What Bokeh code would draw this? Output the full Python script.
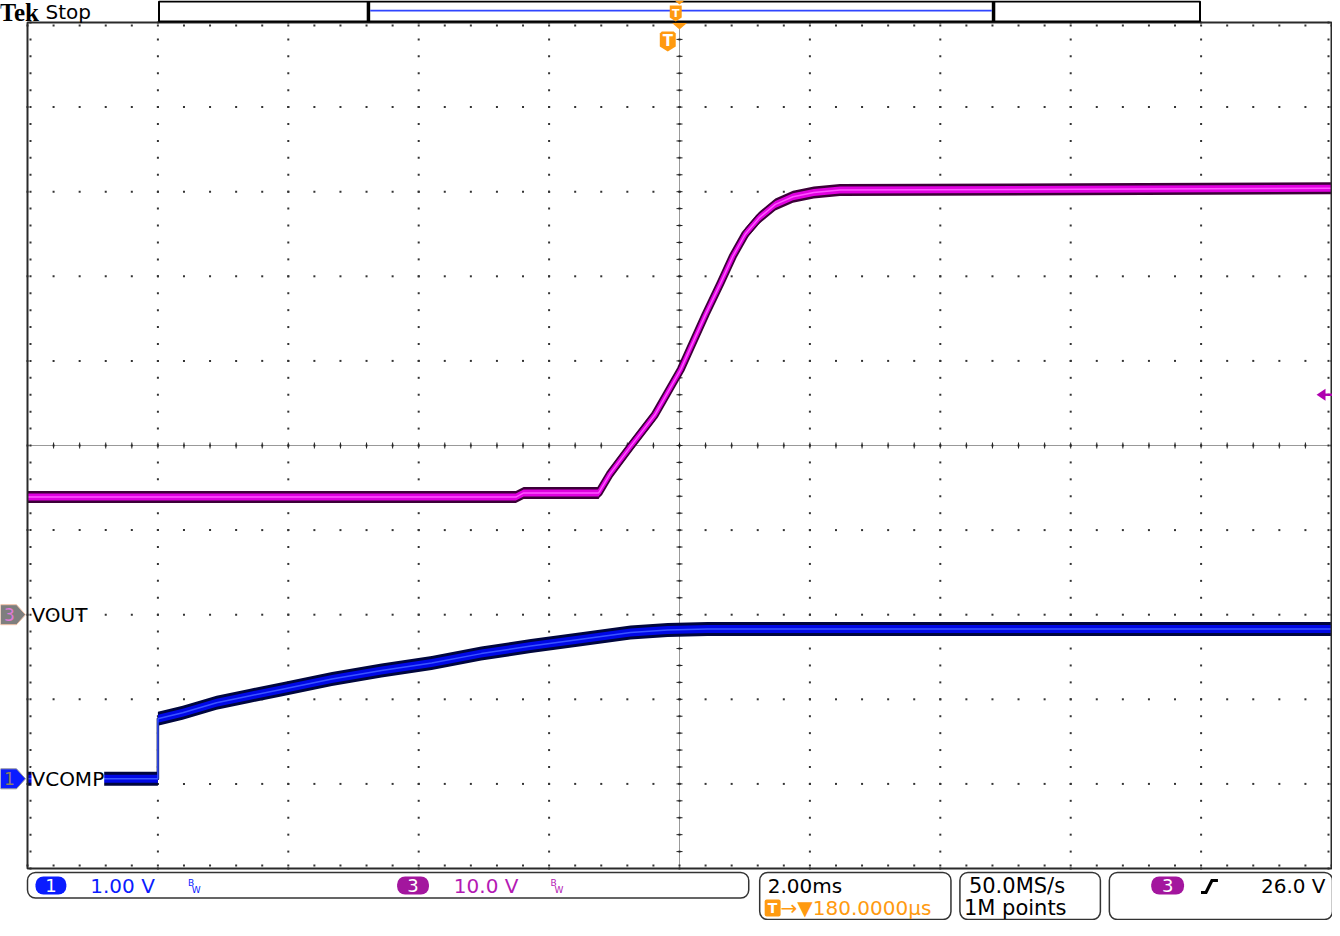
import numpy as np
from bokeh.plotting import figure
from bokeh.models import Range1d, Label, BoxAnnotation, PolyAnnotation
from bokeh.embed import file_html
from bokeh.resources import INLINE

# ---------------- data (time in ms relative to trigger, volts) ----------------
vout_t = [-9.82, -2.33, -2.21, -1.06, -0.89, -0.57, -0.20, 0.20, 0.58, 0.81,
          1.00, 1.19, 1.40, 1.65, 1.92, 2.24, 2.64, 10.18]
vout_v = [13.9, 13.9, 14.4, 14.4, 16.6, 19.9, 23.6, 29.0, 35.5, 39.2,
          42.4, 45.0, 46.9, 48.5, 49.4, 49.9, 50.2, 50.4]

vcomp_t = [-9.82, -7.82, -7.82, -7.44, -6.92, -6.42, -5.91, -5.15, -4.39,
           -3.62, -2.86, -2.10, -1.33, -0.57, 0.00, 0.61, 10.18]
vcomp_v = [0.0, 0.0, 0.71, 0.78, 0.90, 0.98, 1.06, 1.18, 1.28,
           1.37, 1.48, 1.57, 1.65, 1.73, 1.76, 1.77, 1.77]

# scope settings
time_per_div = 2.0          # ms/div
trigger_delay = 0.18        # ms, screen centre after trigger
ch3_scale, ch3_pos = 10.0, -2.0   # V/div, div
ch1_scale, ch1_pos = 1.0, -3.94
trigger_level = 26.0        # V on ch3

ch1_name, ch3_name = "VCOMP", "VOUT"
ch1_text, ch3_text = "1.00 V", "10.0 V"
tb_text, delay_text = "2.00ms", "\u2192\u25BC180.0000\u00b5s"
rate_text, points_text = "50.0MS/s", "1M points"
trig_text = "26.0 V"

# ---------------- geometry (canvas pixels) ----------------
W, H = 1332, 920
GL, GR, GT, GB = 27, 1331, 22, 868       # graticule box
DIVX = (GR - GL) / 10.0
DIVY = (GB - GT) / 10.0
SX = (GR - GL) / 1309.0                  # reference -> canvas x scale in graticule
T0 = -5 * time_per_div + trigger_delay

def px_to_t(px):
    return T0 + (px - GL) / DIVX * time_per_div

def py_to_d(py):
    return 5 - (py - GT) / DIVY

def PX(X):
    return GL + (X - 27) * SX if X > 27 else X

def DX(X):
    return px_to_t(PX(X))

def DY(Y):
    return py_to_d(Y)

d_lo, d_hi = py_to_d(H), py_to_d(0)
p = figure(width=W, height=H, title=None,
           x_range=Range1d(px_to_t(0), px_to_t(W)), y_range=Range1d(d_lo, d_hi),
           x_axis_type=None, y_axis_type=None, toolbar_location=None,
           output_backend="svg", min_border=0, min_border_left=0, min_border_right=0,
           min_border_top=0, min_border_bottom=0)
p.background_fill_color = "white"
p.border_fill_color = "white"
p.outline_line_color = None

p.extra_y_ranges = {
    "ch3": Range1d((d_lo - ch3_pos) * ch3_scale, (d_hi - ch3_pos) * ch3_scale),
    "ch1": Range1d((d_lo - ch1_pos) * ch1_scale, (d_hi - ch1_pos) * ch1_scale),
}

# ---------------- graticule ----------------
xt = np.array([T0 + time_per_div * i for i in range(11)])
yt = np.arange(-5, 5.001, 1.0)
sub_y = np.arange(-5, 5.001, 0.2)
sub_x = np.arange(T0, T0 + 10 * time_per_div + 0.001, time_per_div / 5)
gx1, gy1 = np.meshgrid(xt[1:-1], sub_y)
gx2, gy2 = np.meshgrid(sub_x, yt[1:-1])
p.scatter(np.concatenate([gx1.ravel(), gx2.ravel()]),
          np.concatenate([gy1.ravel(), gy2.ravel()]),
          marker="square", size=2, fill_color="#333333", line_color=None)
xc = T0 + 5 * time_per_div
p.segment(x0=[xc, T0], y0=[-5, 0], x1=[xc, T0 + 10 * time_per_div], y1=[5, 0],
          line_color="#333333", line_width=1, line_dash="1 1")
p.scatter(np.full(len(sub_y), xc), sub_y, marker="dash", size=6, line_color="#222222", line_width=1)
p.scatter(sub_x, np.zeros(len(sub_x)), marker="dash", angle=np.pi / 2, size=6,
          line_color="#222222", line_width=1)
kx = time_per_div / DIVX
ky = 1.0 / DIVY
for xe, s in ((T0, 1), (T0 + 10 * time_per_div, -1)):
    p.scatter(np.full(len(sub_y), xe + s * 3 * kx), sub_y, marker="square", size=2,
              fill_color="#333333", line_color=None)
for ye, s in ((-5, 1), (5, -1)):
    p.scatter(sub_x, np.full(len(sub_x), ye + s * 3 * ky), marker="square", size=2,
              fill_color="#333333", line_color=None)

# ---------------- traces (band = persistence of the noisy trace) ----------------
def trace(t, v, rng, scale, outer_px, inner_px, c_outer, c_inner, c_core, min_w=2.5):
    v = np.asarray(v, dtype=float)
    vpp = scale / DIVY                    # volts per pixel
    p.varea(x=t, y1=v - outer_px * vpp, y2=v + outer_px * vpp, y_range_name=rng,
            fill_color=c_outer)
    p.line(t, v, y_range_name=rng, line_width=min_w, line_color=c_outer, line_join="round")
    p.varea(x=t, y1=v - inner_px * vpp, y2=v + inner_px * vpp, y_range_name=rng,
            fill_color=c_inner)
    if min_w > 3:
        p.line(t, v, y_range_name=rng, line_width=min_w - 3.5, line_color=c_inner,
               line_join="round")
    p.line(t, v, y_range_name=rng, line_width=1.5, line_color=c_core)

trace(vout_t, vout_v, "ch3", ch3_scale, 6.0, 3.5, "#3c0038", "#e000e0", "#ff55ff", min_w=8)
trace(vcomp_t, vcomp_v, "ch1", ch1_scale, 7.0, 4.0, "#00063e", "#0008e6", "#3a55ff")

# graticule border
p.add_layout(BoxAnnotation(left=T0, right=T0 + 10 * time_per_div, bottom=-5, top=5,
                           fill_alpha=0, line_color="#2a2a2a", line_alpha=1, line_width=2))

# ---------------- helpers for decorations ----------------
def box(X0, X1, Y0, Y1, fill=None, line=None, lw=1.0, radius=0):
    p.add_layout(BoxAnnotation(left=DX(X0), right=DX(X1), top=DY(Y0), bottom=DY(Y1),
                               fill_color=fill or "white", fill_alpha=1 if fill else 0,
                               line_color=line or "black", line_alpha=1 if line else 0,
                               line_width=lw, border_radius=radius))

def poly(pts, fill, line=None, lw=1.0):
    p.add_layout(PolyAnnotation(xs=[DX(x) for x, y in pts], ys=[DY(y) for x, y in pts],
                                fill_color=fill, fill_alpha=1,
                                line_color=line or fill, line_alpha=1 if line else 0,
                                line_width=lw))

def label(X, Y, text, size, color, align="left", baseline="middle",
          font="DejaVu Sans", style="normal", bg=None):
    kw = dict(x=DX(X), y=DY(Y), text=text, text_font_size=f"{size}px",
              text_color=color, text_align=align, text_baseline=baseline,
              text_font=font, text_font_style=style)
    if bg:
        kw["background_fill_color"] = bg
    p.add_layout(Label(**kw))

def x_ref(t):
    return 27 + (t - T0) / time_per_div * 130.9

def y_ref(div):
    return GT + (5 - div) * DIVY

ORANGE = "#ff9a10"
BLUE = "#0a1cff"
MAG_BADGE = "#a3169e"
MAG_TEXT = "#b41ab4"

# ---------------- top bar ----------------
label(-1, 11.5, "Tek", 25, "black", font="Liberation Serif", style="bold")
label(45, 11.5, "Stop", 20, "black")
box(159, 1204, 1, 21, fill="white", line="black", lw=2)
box(367.5, 371, 1, 21, fill="black")
box(995, 998.5, 1, 21, fill="black")
box(371, 995, 9.2, 11, fill="#2f45ff")
xtrig = x_ref(0.0)
xcen = x_ref(xc)
poly([(xcen - 5, 0), (xcen + 5, 0), (xcen, 4)], ORANGE)
poly([(xtrig + 2, 5), (xtrig + 14, 5), (xtrig + 14, 17), (xtrig + 8, 21), (xtrig + 2, 17)], ORANGE)
label(xtrig + 8, 12.5, "T", 11, "white", align="center", style="bold")
poly([(xcen - 7.5, 22.5), (xcen + 7.5, 22.5), (xcen, 29)], ORANGE)
poly([(xtrig - 8, 33), (xtrig - 6, 31), (xtrig + 6, 31), (xtrig + 8, 33), (xtrig + 8, 46),
      (xtrig, 51), (xtrig - 8, 46)], ORANGE)
label(xtrig, 40.5, "T", 15, "white", align="center", style="bold")

# trigger level arrow (right edge)
ytl = y_ref(trigger_level / ch3_scale + ch3_pos)
poly([(1321, ytl), (1330, ytl - 6), (1330, ytl + 6)], "#b000b0")
box(1329, 1338, ytl - 1.2, ytl + 1.2, fill="#b000b0")

# channel ground markers + names
y3 = y_ref(ch3_pos)
y1 = y_ref(ch1_pos)
poly([(0, y3 - 10), (16, y3 - 10), (25, y3), (16, y3 + 10), (0, y3 + 10)], "#7e7e7e", line="#f2c2a8")
label(9, y3, "3", 17, "#e07ad8", align="center")
label(31, y3, ch3_name, 20, "black")
poly([(0, y1 - 10), (16, y1 - 10), (25, y1), (16, y1 + 10), (0, y1 + 10)], BLUE, line="#9a9a9a")
label(9, y1, "1", 17, "#8a8060", align="center")
label(31, y1, ch1_name, 20, "black", bg="white")

# ---------------- bottom status boxes ----------------
box(27, 751, 872, 897.5, fill="white", line="#333333", lw=1.5, radius=8)
box(35, 66, 876, 894, fill=BLUE, radius=8)
label(50.5, 885, "1", 18, "white", align="center")
label(90, 885, ch1_text, 20, BLUE)
label(188, 882, "B", 9, BLUE)
label(192, 889, "W", 9, BLUE)
box(398, 430, 876, 894, fill=MAG_BADGE, radius=8)
label(414, 885, "3", 18, "white", align="center")
label(455, 885, ch3_text, 20, MAG_TEXT)
label(552, 882, "B", 9, MAG_TEXT)
label(556, 889, "W", 9, MAG_TEXT)

box(762, 954, 872, 919, fill="white", line="#333333", lw=1.5, radius=8)
label(770, 885, tb_text, 20, "black")
box(767, 783, 899, 916, fill=ORANGE, radius=2)
label(775, 907.5, "T", 14, "white", align="center", style="bold")
label(783, 907, delay_text, 20, ORANGE)

box(963, 1104, 872, 919, fill="white", line="#333333", lw=1.5, radius=8)
label(972, 885, rate_text, 21, "black")
label(967, 907, points_text, 21, "black")

box(1113, 1337, 872, 919, fill="white", line="#333333", lw=1.5, radius=8)
box(1155, 1188, 876, 894, fill=MAG_BADGE, radius=8)
label(1171.5, 885, "3", 18, "white", align="center")
poly([(1205, 890.5), (1209, 890.5), (1215, 878.5), (1222, 878.5), (1222, 881.5),
      (1217, 881.5), (1211, 893.5), (1205, 893.5)], "black")
label(1330, 885, trig_text, 20, "black", align="right")

open("out.html", "w").write(file_html(p, INLINE))
